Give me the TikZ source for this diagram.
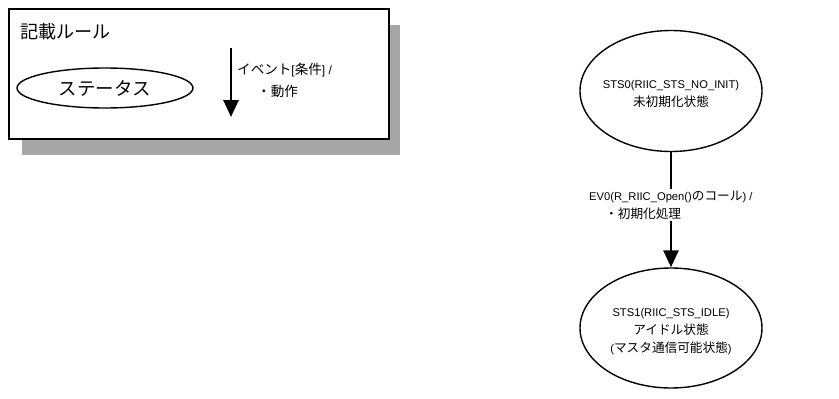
\documentclass[tikz,border=0pt]{standalone}
\usepackage{fontspec}
\setmainfont{Liberation Sans}
\newfontfamily\jp[Scale=1.13]{Noto Sans CJK JP}
\usetikzlibrary{arrows.meta,shapes.geometric}
\definecolor{shadowgray}{HTML}{A6A6A6}
\begin{document}
\begin{tikzpicture}[x=1pt,y=-1pt,
  state/.style={ellipse,draw,line width=1.4pt,minimum width=182pt,minimum height=121pt,inner sep=0pt},
  statetext/.style={inner sep=0pt,align=center,font=\fontsize{11.2}{18}\selectfont},
  conn/.style={line width=2.6pt,-{Triangle[length=17pt,width=15pt]}},
  lbl/.style={fill=white,inner sep=2pt,align=left,font=\fontsize{11.2}{18}\selectfont}]
\useasboundingbox (0,0) rectangle (839,399);
% legend
\fill[shadowgray] (22,25) rectangle (400,155);
\node[draw,line width=1.4pt,fill=white,minimum width=380pt,minimum height=130pt,inner sep=0pt] (legend) at (199,74) {};
\node[anchor=west,inner sep=0pt,font=\jp\fontsize{16}{18}\selectfont] (title) at (20,32) {記載ルール};
\node[ellipse,draw,line width=1.4pt,minimum width=176pt,minimum height=40pt,inner sep=0pt,font=\jp\fontsize{16.3}{18}\selectfont] (st) at (105,88) {ステータス};
\coordinate (la) at (231,48);
\coordinate (lb) at (231,117);
\draw[conn] (la) -- (lb);
\node[anchor=north west,inner sep=0pt,align=left,font=\fontsize{12}{22}\selectfont] (ev) at (237,63) {{\jp イベント}[{\jp 条件}] /\\\hspace{20pt}{\jp ・動作}};
% diagram
\node[state] (s0) at (671,91) {};
\node[statetext] (s0t) at (671,94) {STS0(RIIC\_STS\_NO\_INIT)\\{\jp 未初期化状態}};
\node[state,minimum height=120pt] (s1) at (671,328) {};
\node[statetext] (s1t) at (671,332) {STS1(RIIC\_STS\_IDLE)\\{\jp アイドル状態}\\({\jp マスタ通信可能状態})};
\draw[conn] (s0.south) -- (s1.north);
\node[lbl,anchor=west] (e0) at (587,205) {EV0(R\_RIIC\_Open(){\jp のコール}) /\\\hspace{16pt}{\jp ・初期化処理}};
\end{tikzpicture}
\end{document}
